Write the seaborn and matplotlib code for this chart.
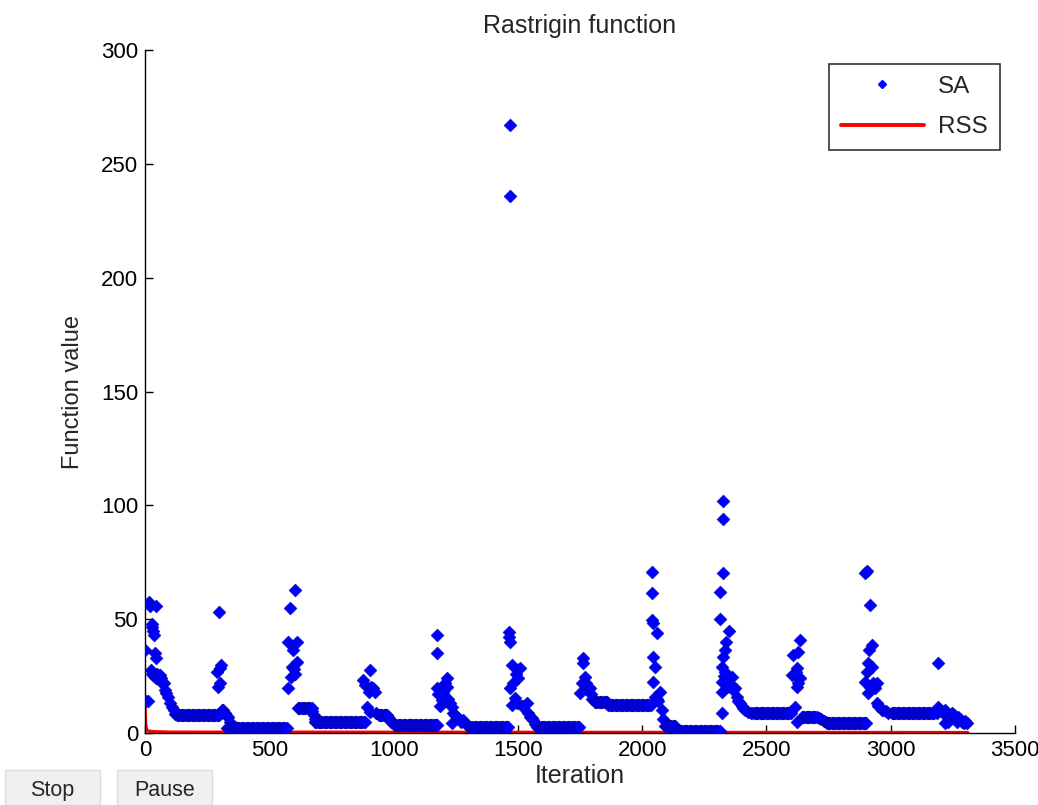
import numpy as np
import pandas as pd
import matplotlib
matplotlib.use("Agg")
import matplotlib.pyplot as plt
import seaborn as sns
from matplotlib.patches import Rectangle
from matplotlib.lines import Line2D

# SA: flat stretches where the search sits in one local minimum (start, end, value)
plateau_start = [128, 330, 615, 684, 940, 1006, 1307, 1576, 1810, 1864, 2092, 2132, 2447, 2642, 2742, 3004]
plateau_end = [302, 570, 670, 885, 975, 1180, 1462, 1750, 1864, 2038, 2132, 2313, 2601, 2702, 2903, 3178]
plateau_value = [8.0, 2.2, 10.8, 5.0, 8.0, 3.5, 2.8, 2.5, 13.8, 12.3, 3.0, 1.0, 8.6, 7.2, 4.5, 8.6]

# SA: the scattered points between the plateaus
sa_iter = [0, 5, 12, 18, 22, 28, 30, 33, 38, 40, 44, 46, 25, 30, 35, 45, 50, 55, 60, 65, 70, 75,
           80, 86, 92, 100, 107, 115, 122,
           288, 294, 298, 302, 305, 300, 305, 310, 314, 320, 326, 334, 342,
           576, 576, 583, 587, 590, 595, 603, 610, 612, 600, 605, 672, 678, 684,
           877, 885, 892, 900, 905, 905, 910, 917, 925, 930, 980, 990, 1000,
           1174, 1176, 1176, 1180, 1185, 1194, 1200, 1205, 1214, 1214, 1220, 1225, 1234, 1234,
           1240, 1248, 1254, 1262, 1270, 1281, 1290, 1300,
           1464, 1466, 1468, 1468, 1468, 1475, 1475, 1468, 1480, 1488, 1492, 1500, 1508, 1495,
           1515, 1520, 1535, 1540, 1549, 1555, 1562, 1570,
           1750, 1757, 1763, 1763, 1770, 1775, 1780, 1790, 1795, 1800, 1805,
           2038, 2041, 2038, 2044, 2058, 2044, 2050, 2044, 2072, 2050, 2079, 2085, 2060, 2065,
           2313, 2313, 2320, 2320, 2320, 2320, 2326, 2326, 2326, 2326, 2333, 2339, 2349, 2360,
           2373, 2380, 2394, 2407, 2427, 2330, 2335, 2340, 2345, 2355, 2365, 2385, 2400, 2415, 2437,
           2601, 2608, 2615, 2621, 2621, 2621, 2628, 2635, 2635, 2610, 2618, 2625,
           2710, 2720, 2730, 2738,
           2897, 2903, 2897, 2903, 2910, 2910, 2913, 2917, 2923, 2923, 2937, 2943, 2943, 2963,
           2950, 2970, 2980, 2990, 2930, 2915,
           3192, 3192, 3218, 3218, 3232, 3245, 3259, 3272, 3286, 3306, 3200, 3210, 3225, 3240,
           3255, 3265, 3280, 3295, 3300, 3185]
sa_value = [36.5, 14, 14, 57.5, 56, 48, 46.5, 45, 43, 35, 56, 33, 27.7, 26, 25, 24, 26, 25, 25.5, 24, 22, 22,
            19, 17.5, 16, 13, 11.5, 10, 8.5,
            27, 20, 53.3, 28.5, 30, 22, 9, 10, 10, 9, 8, 7, 5,
            19.6, 40, 55, 24.7, 29, 36.5, 62.8, 31.3, 40, 28, 26, 9.5, 8, 6,
            23.3, 21, 11.6, 18, 27.7, 9.4, 20, 19.7, 18, 9, 6.5, 5, 4,
            19.6, 43, 35.3, 17, 12, 14.5, 18, 22, 24, 20.3, 15, 13, 11.5, 4.3,
            9, 8, 7.2, 6, 5, 5.7, 4, 3,
            44.5, 42, 40, 267, 236, 30, 12.3, 19.6, 22, 15.2, 26, 24, 28.4, 13,
            12, 12, 13, 9, 7.2, 6.5, 5.7, 4,
            17.4, 21.8, 32.8, 30.6, 24.7, 22, 20, 19.6, 17, 15, 14.5,
            70.8, 61.3, 49.6, 48.4, 43.8, 33.5, 29, 22.5, 18, 16, 10, 6, 15, 14,
            62, 50, 29, 22.5, 18, 8.6, 101.9, 93.8, 70.1, 33.5, 36.5, 40, 45, 24.7,
            19.6, 16, 13, 10.8, 9.4, 25, 27, 20, 23, 21, 19, 14, 12, 10, 9,
            25.5, 34.3, 11.6, 28.4, 20.3, 5, 35.7, 41, 24, 26, 27, 22,
            6.5, 6, 5.5, 5,
            70.1, 71, 22.5, 27, 30.6, 17.4, 36.5, 56.2, 38.6, 29, 19.6, 21.8, 13, 10,
            12, 10, 9.5, 9, 22, 20,
            30.6, 11.6, 10, 4.3, 5, 8.6, 6.4, 7.2, 5, 4.3, 10, 9, 8, 7,
            8, 5, 6, 4.5, 5.5, 9]

# RSS: best value found so far
rss_iter = [0, 2, 5, 10, 30, 100, 3310]
rss_value = [12, 5, 2, 1, 0.6, 0.4, 0.2]

# build the SA frame
xs, ys = list(sa_iter), list(sa_value)
for s, e, v in zip(plateau_start, plateau_end, plateau_value):
    it = np.arange(s, e + 1, 5)
    xs.extend(it)
    ys.extend([v] * len(it))
sa = pd.DataFrame({"iter": xs, "value": ys})
rss = pd.DataFrame({"iter": rss_iter, "value": rss_value})

sns.set_theme(style="white")
plt.rcParams["font.family"] = ["Liberation Sans", "DejaVu Sans"]

fig = plt.figure(figsize=(10.38, 8.05), dpi=100)
ax = fig.add_axes([0.1397, 0.0894, 0.8382, 0.8485])

sns.lineplot(data=rss, x="iter", y="value", color="#ff0000", linewidth=2.4,
             estimator=None, sort=False, ax=ax, zorder=2)
sns.scatterplot(data=sa, x="iter", y="value", marker="D", s=44, color="#0000ff",
                edgecolor="#00008b", linewidth=0.3, ax=ax, zorder=3)

ax.set_xlim(0, 3500)
ax.set_ylim(0, 300)
ax.set_xticks(range(0, 3501, 500))
ax.set_yticks(range(0, 301, 50))
ax.tick_params(direction="in", length=6, width=1, labelsize=16, colors="black",
               bottom=True, left=True, top=False, right=False, pad=5)
for side in ["top", "right"]:
    ax.spines[side].set_visible(False)
for side in ["left", "bottom"]:
    ax.spines[side].set_color("black")
    ax.spines[side].set_linewidth(1)

ax.set_title("Rastrigin function", fontsize=18, pad=12)
ax.set_xlabel("Iteration", fontsize=18, labelpad=2)
ax.set_ylabel("Function value", fontsize=17, labelpad=12)

handles = [Line2D([], [], marker="D", color="#0000ff", linestyle="none", markersize=4.5),
           Line2D([], [], color="#ff0000", linewidth=2.8)]
leg = ax.legend(handles, ["SA", "RSS"], loc="upper right", bbox_to_anchor=(0.983, 0.98),
                borderaxespad=0, fontsize=17.5, frameon=True, fancybox=False,
                handlelength=3.4, handletextpad=0.6, labelspacing=0.75, borderpad=0.5)
leg.get_frame().set_edgecolor("black")
leg.get_frame().set_linewidth(1.2)

# the Stop / Pause buttons of the original window
for x0, w, label in [(5, 95, "Stop"), (117, 95, "Pause")]:
    fig.add_artist(Rectangle((x0 / 1038, 0), w / 1038, 35 / 805, transform=fig.transFigure,
                             facecolor="#f0f0f0", edgecolor="#dcdcdc", linewidth=1))
    fig.text((x0 + w / 2) / 1038, 15 / 805, label, ha="center", va="center", fontsize=15.5)

fig.savefig("out.png", dpi=100)
